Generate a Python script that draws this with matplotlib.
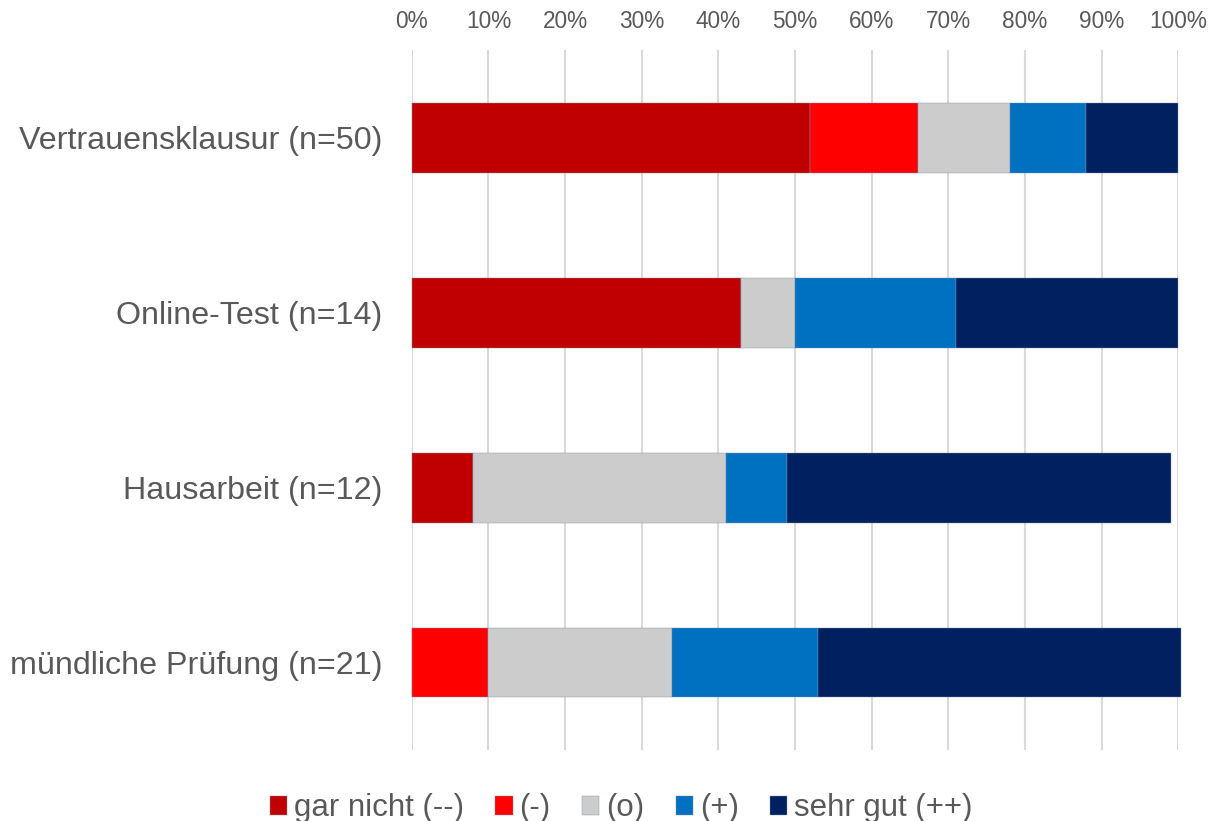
import matplotlib.pyplot as plt
import numpy as np

# Data (percent of answers per format)
categories = ["Vertrauensklausur (n=50)", "Online-Test (n=14)",
              "Hausarbeit (n=12)", "mündliche Prüfung (n=21)"]
series_names = ["gar nicht (--)", "(-)", "(o)", "(+)", "sehr gut (++)"]
gar_nicht = [52, 43, 8, 0]
minus = [14, 0, 0, 10]
neutral = [12, 7, 33, 24]
plus = [10, 21, 8, 19]
sehr_gut = [12, 29, 50, 47.4]
colors = ["#C00000", "#FF0000", "#CCCCCC", "#0070C0", "#002060"]

plt.rcParams['font.family'] = ['Liberation Sans', 'DejaVu Sans']
text_color = "#595959"

fig = plt.figure(figsize=(12.11, 8.21), dpi=100)
ax = fig.add_axes([0.340, 0.0865, 0.633, 0.8525])

y = np.arange(len(categories))
left = np.zeros(len(categories))
for name, vals, c in zip(series_names,
                         [gar_nicht, minus, neutral, plus, sehr_gut], colors):
    ax.barh(y, vals, left=left, height=0.4, color=c, label=name,
            edgecolor="#8090b0", linewidth=0.3, zorder=3, clip_on=False)
    left += np.array(vals)

ax.set_xlim(0, 100)
ax.set_ylim(len(categories) - 0.5, -0.5)
ax.set_yticks(y)
ax.set_yticklabels(categories, fontsize=23.2, color=text_color)
ax.set_xticks(np.arange(0, 101, 10))
ax.set_xticklabels([f"{v}%" for v in range(0, 101, 10)], fontsize=16.3,
                   color=text_color)
ax.xaxis.tick_top()
ax.tick_params(axis='x', length=0, pad=12)
ax.tick_params(axis='y', length=0, pad=21)
ax.grid(axis='x', color="#D9D9D9", linewidth=1.5, zorder=0)
for s in ax.spines.values():
    s.set_visible(False)

leg = fig.legend(loc='lower center', bbox_to_anchor=(0.513, -0.037), ncol=5,
                 frameon=False, fontsize=22.5, handlelength=0.55,
                 handleheight=0.55, handletextpad=0.22, columnspacing=1.0)
for t in leg.get_texts():
    t.set_color(text_color)

fig.savefig("out.png", dpi=100)
